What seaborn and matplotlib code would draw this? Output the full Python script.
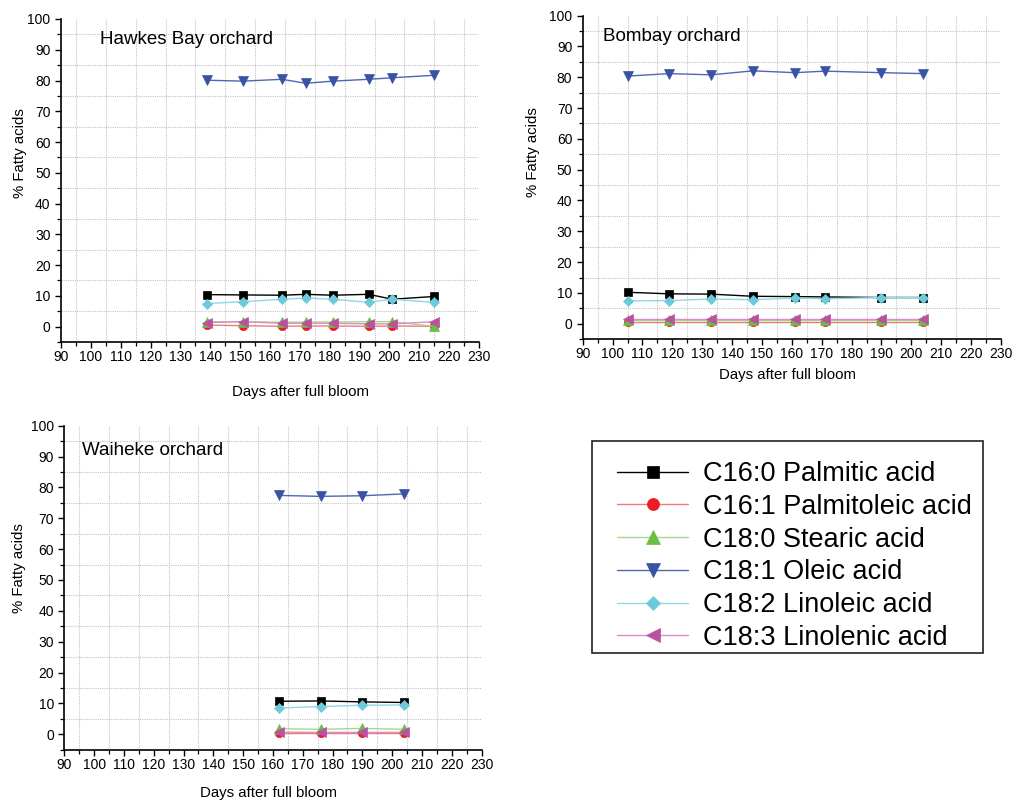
import matplotlib
matplotlib.use("Agg")
import matplotlib.pyplot as plt
import seaborn as sns
import pandas as pd
from matplotlib.ticker import MultipleLocator
from matplotlib.patches import Rectangle

# ---------------- data ----------------
acids = ["C16:0 Palmitic acid", "C16:1 Palmitoleic acid", "C18:0 Stearic acid",
         "C18:1 Oleic acid", "C18:2 Linoleic acid", "C18:3 Linolenic acid"]

hb_days = [139, 151, 164, 172, 181, 193, 201, 215]
hb_c160 = [10.4, 10.3, 10.2, 10.5, 10.2, 10.5, 8.9, 9.8]
hb_c161 = [0.5, 0.3, 0.1, 0.2, 0.2, 0.1, 0.2, 0.1]
hb_c180 = [1.6, 1.6, 1.4, 1.5, 1.5, 1.6, 1.6, 0.1]
hb_c181 = [80.1, 79.8, 80.4, 79.1, 79.8, 80.4, 80.9, 81.7]
hb_c182 = [7.5, 8.1, 8.9, 9.3, 8.9, 7.9, 8.9, 7.9]
hb_c183 = [1.3, 1.6, 1.1, 1.1, 1.1, 0.9, 0.9, 1.6]

bo_days = [105, 119, 133, 147, 161, 171, 190, 204]
bo_c160 = [10.2, 9.7, 9.6, 8.9, 8.8, 8.7, 8.5, 8.5]
bo_c161 = [0.5, 0.5, 0.5, 0.5, 0.5, 0.5, 0.5, 0.5]
bo_c180 = [1.1, 1.1, 1.1, 1.1, 1.1, 1.1, 1.1, 1.1]
bo_c181 = [80.4, 81.2, 80.8, 82.1, 81.5, 82.0, 81.5, 81.2]
bo_c182 = [7.4, 7.5, 8.0, 7.8, 8.3, 8.1, 8.5, 8.5]
bo_c183 = [1.6, 1.6, 1.6, 1.6, 1.6, 1.6, 1.6, 1.6]

wa_days = [162, 176, 190, 204]
wa_c160 = [10.7, 10.8, 10.5, 10.3]
wa_c161 = [0.5, 0.5, 0.5, 0.5]
wa_c180 = [1.8, 1.6, 1.9, 1.6]
wa_c181 = [77.4, 77.1, 77.3, 77.9]
wa_c182 = [8.5, 9.0, 9.4, 9.5]
wa_c183 = [0.7, 0.6, 0.6, 0.6]

orchards = ["Hawkes Bay orchard", "Bombay orchard", "Waiheke orchard"]
x_ticks = list(range(90, 231, 10))
y_ticks = list(range(0, 101, 10))

# ---------------- styles ----------------
marker_colors = ["#000000", "#ed1c24", "#6cbd45", "#3953a4", "#6dcadb", "#b9529f"]
line_colors = ["#000000", "#f07a7a", "#a6d88a", "#4f66b0", "#8fd8e6", "#d98fc6"]
markers = ["s", "o", "^", "v", "D", "<"]
msizes = [5.5, 6.0, 7.0, 7.0, 5.2, 7.0]

def long_df(days, series):
    rows = []
    for name, vals in zip(acids, series):
        for d, v in zip(days, vals):
            rows.append({"day": d, "value": v, "acid": name})
    return pd.DataFrame(rows)

datasets = [
    long_df(hb_days, [hb_c160, hb_c161, hb_c180, hb_c181, hb_c182, hb_c183]),
    long_df(bo_days, [bo_c160, bo_c161, bo_c180, bo_c181, bo_c182, bo_c183]),
    long_df(wa_days, [wa_c160, wa_c161, wa_c180, wa_c181, wa_c182, wa_c183]),
]

sns.set_style("ticks")
plt.rcParams["font.family"] = ["Liberation Sans", "DejaVu Sans"]
plt.rcParams["text.color"] = "#000000"
plt.rcParams["axes.labelcolor"] = "#000000"
plt.rcParams["xtick.color"] = "#000000"
plt.rcParams["ytick.color"] = "#000000"

W, H = 1013, 802
fig = plt.figure(figsize=(W / 100, H / 100), dpi=100)

def px_axes(left, right, top, bottom):
    return fig.add_axes([left / W, 1 - bottom / H, (right - left) / W, (bottom - top) / H])

axes = [
    px_axes(61, 479, 19, 342),
    px_axes(582.7, 1001, 15.7, 339.1),
    px_axes(64.3, 481.5, 425.7, 749.7),
]

title_pos = [(103, 93.2), (96.8, 93.4), (96, 92.1)]
xlabel_pos = [(0.572, -0.154), (0.49, -0.111), (0.49, -0.134)]
ylabel_pos = [(-0.098, 0.584), (-0.118, 0.577), (-0.109, 0.561)]

for ax, df, title, tp, xl, yl in zip(axes, datasets, orchards, title_pos, xlabel_pos, ylabel_pos):
    for i, name in enumerate(acids):
        sub = df[df["acid"] == name]
        sns.lineplot(data=sub, x="day", y="value", ax=ax, color=line_colors[i],
                     marker=markers[i], markersize=msizes[i],
                     markerfacecolor=marker_colors[i], markeredgecolor=marker_colors[i],
                     markeredgewidth=0.5, linewidth=1.0, label=name, legend=False)
    ax.set_xlim(90, 230)
    ax.set_ylim(-5, 100)
    ax.set_xticks(x_ticks)
    ax.set_yticks(y_ticks)
    ax.xaxis.set_minor_locator(MultipleLocator(5))
    ax.yaxis.set_minor_locator(MultipleLocator(5))
    ax.grid(False, which="major")
    ax.grid(True, which="minor", linestyle=(0, (1, 1)), color="#c4c4c4", linewidth=0.8)
    ax.set_axisbelow(True)
    for s in ["top", "right"]:
        ax.spines[s].set_visible(False)
    for s in ["left", "bottom"]:
        ax.spines[s].set_linewidth(1.2)
        ax.spines[s].set_color("#000000")
    ax.tick_params(axis="both", which="major", direction="out", length=4.5, width=1.0,
                   labelsize=10, color="#000000", labelcolor="#000000")
    ax.tick_params(axis="both", which="minor", direction="out", length=3.0, width=0.9,
                   color="#000000")
    ax.tick_params(axis="x", which="major", pad=1.5)
    ax.tick_params(axis="y", which="major", pad=3.0)
    ax.set_xlabel("Days after full bloom", fontsize=10.8, color="#000000")
    ax.set_ylabel("% Fatty acids", fontsize=10.8, color="#000000")
    ax.xaxis.set_label_coords(*xl)
    ax.yaxis.set_label_coords(*yl)
    ax.xaxis.label.set_va("center")
    ax.yaxis.label.set_va("center")
    ax.text(tp[0], tp[1], title, fontsize=13.5, ha="left", va="center", color="#000000")
    if ax.get_legend() is not None:
        ax.get_legend().remove()

# ---------------- legend ----------------
handles, labels = axes[0].get_legend_handles_labels()
leg = fig.legend(handles, labels, loc="upper left",
                 bbox_to_anchor=(617 / W, 1 - 461 / H), frameon=False,
                 fontsize=19.5, borderpad=0, borderaxespad=0,
                 handlelength=2.63, handletextpad=0.55, labelspacing=0.25,
                 markerscale=1.45)
for t in leg.get_texts():
    t.set_color("#000000")
fig.add_artist(Rectangle((592 / W, 1 - 653 / H), (983 - 592) / W, (653 - 441) / H,
                         transform=fig.transFigure, fill=False, edgecolor="#222222",
                         linewidth=1.2))

fig.savefig("out.png", dpi=100)
